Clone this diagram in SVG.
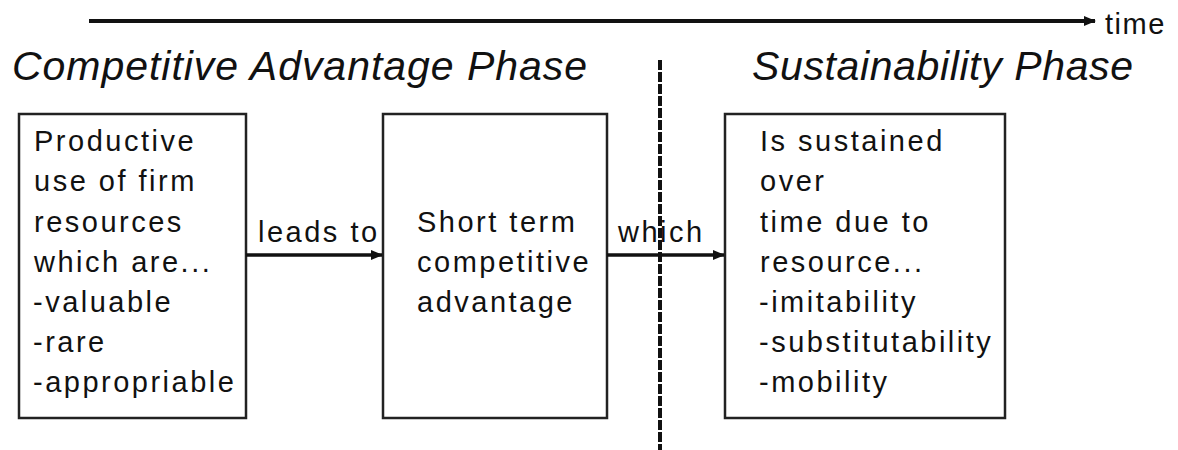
<svg xmlns="http://www.w3.org/2000/svg" width="1178" height="450" viewBox="0 0 1178 450">
<defs>
<style>
.box{fill:#fff;stroke:#222;stroke-width:2.5}
.t{font-family:"Liberation Sans",Arial,sans-serif;font-size:29px;letter-spacing:2.5px;fill:#111}
.title{font-family:"Liberation Sans",Arial,sans-serif;font-size:41px;font-style:italic;fill:#111}
.line{stroke:#111;stroke-width:3.5;fill:none}
</style>
<marker id="ah" markerUnits="userSpaceOnUse" markerWidth="12" markerHeight="10" refX="11" refY="5" orient="auto">
<path d="M0,0 L12,5 L0,10 Z" fill="#111"/>
</marker>
</defs>
<rect width="1178" height="450" fill="#fff"/>
<g id="timeline">
<line x1="89" y1="21" x2="1095" y2="21" stroke="#111" stroke-width="4" marker-end="url(#ah)"/>
<text x="1105" y="34" class="t" style="letter-spacing:1.5px">time</text>
</g>
<g id="phase-titles">
<text x="12" y="80" class="title" textLength="575" lengthAdjust="spacing">Competitive Advantage Phase</text>
<text x="752" y="80" class="title" textLength="381" lengthAdjust="spacing">Sustainability Phase</text>
</g>
<g id="divider">
<line x1="660" y1="60" x2="660" y2="450" stroke="#111" stroke-width="4" stroke-dasharray="10,2"/>
</g>
<g id="node-resources">
<rect class="box" x="19" y="114" width="227" height="304"/>
<text class="t">
<tspan x="34" y="151">Productive</tspan>
<tspan x="34" y="191">use of firm</tspan>
<tspan x="34" y="232">resources</tspan>
<tspan x="34" y="272">which are...</tspan>
<tspan x="33" y="312">-valuable</tspan>
<tspan x="33" y="352">-rare</tspan>
<tspan x="33" y="392">-appropriable</tspan>
</text>
</g>
<g id="node-short-term">
<rect class="box" x="383" y="114" width="224" height="304"/>
<text class="t">
<tspan x="417" y="232">Short term</tspan>
<tspan x="417" y="272">competitive</tspan>
<tspan x="417" y="312">advantage</tspan>
</text>
</g>
<g id="node-sustained">
<rect class="box" x="725" y="114" width="280" height="304"/>
<text class="t">
<tspan x="760" y="151">Is sustained</tspan>
<tspan x="760" y="191">over</tspan>
<tspan x="760" y="232">time due to</tspan>
<tspan x="760" y="272">resource...</tspan>
<tspan x="759" y="312">-imitability</tspan>
<tspan x="759" y="352">-substitutability</tspan>
<tspan x="759" y="392">-mobility</tspan>
</text>
</g>
<g id="connectors">
<line class="line" x1="246" y1="255" x2="382" y2="255" marker-end="url(#ah)"/>
<text class="t" x="258" y="242">leads to</text>
<line class="line" x1="607" y1="255" x2="724" y2="255" marker-end="url(#ah)"/>
<text class="t" x="618" y="242">which</text>
</g>
</svg>
